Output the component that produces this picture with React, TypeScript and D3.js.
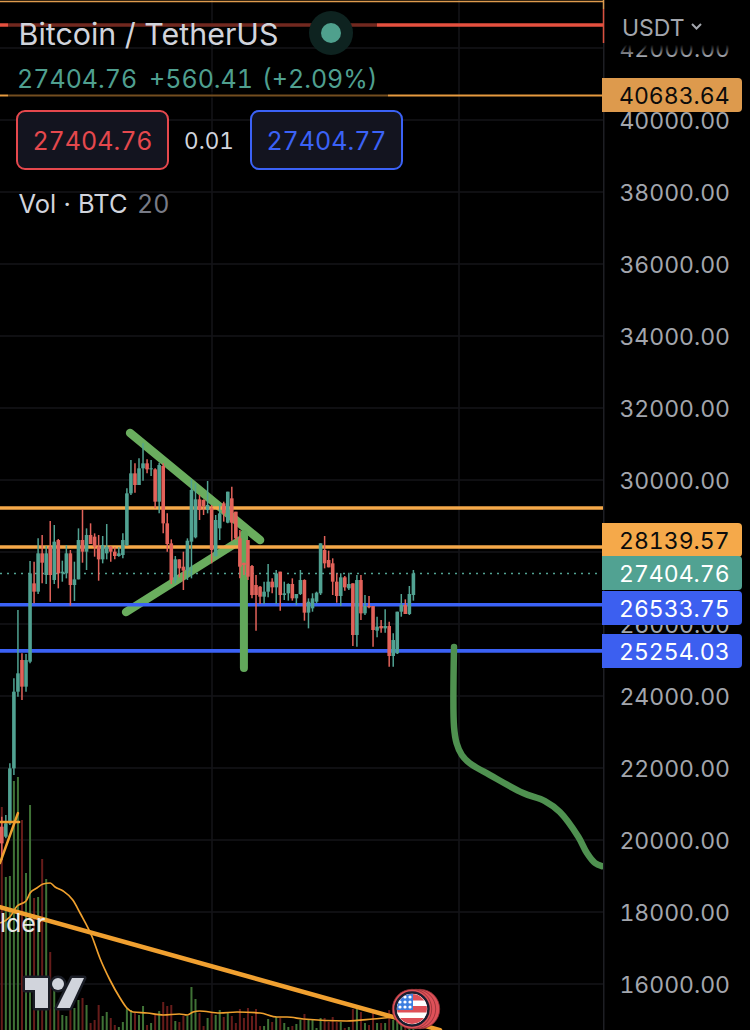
import React from "react";
import * as d3 from "d3";

const opens = [20370,20092,20463,21990,24120,25000,24259,24953,27129,26898,27963,27361,28148,27222,28333,27407,27407,27963,27083,27240,28333,28009,28472,28426,28148,27796,27963,28148,28009,27889,27916,28194,29629,30185,29861,30324,30463,30296,30296,29398,30389,28796,28240,27222,27796,27592,27481,28287,28407,29463,29444,29166,29213,27889,28657,29352,28815,29491,29120,28380,27700,28333,27611,27083,27037,26759,26898,27176,27018,27454,26805,26852,27111,26713,26833,27222,26315,26435,26620,26852,28055,27778,27685,27176,26778,27296,26990,27129,25694,27222,26296,26500,26500,25815,25944,25879,25944,25111,25185,26342,26528,26278,26805];
const highs = [20648,20694,22129,24491,26388,25185,25166,27750,27731,28379,28472,28166,28861,28750,28361,27759,28194,28055,27731,28657,29185,28657,28796,28518,28472,28444,28777,28166,28129,28129,28518,29768,30555,30463,30602,31018,30574,30555,30324,30481,30463,29074,28351,27888,27796,28009,28379,30018,29907,29583,29463,29972,29306,29028,29333,29398,29676,29815,29120,28611,27700,28333,27639,27361,27055,27176,27666,27268,27500,27454,27176,27129,27268,26833,27500,27241,26713,26852,26898,28241,28444,28037,27824,27407,27407,27333,27426,27129,27361,27361,26805,26778,26500,26203,26111,26407,26065,25740,26342,26833,26685,27055,27500];
const lows = [19444,20046,20416,21805,23981,23889,24120,24907,26574,26833,27129,27111,26620,27111,26990,27175,27268,26509,26638,27240,27703,27500,28222,27870,27203,27685,27796,27731,27796,27870,27824,28166,29583,29648,29861,29981,30185,30111,29213,29074,28518,28009,27111,27129,27296,26944,27222,27268,28379,28889,29027,29074,27685,27870,28333,28843,28796,28315,28333,27268,27361,27222,26713,25814,26555,26555,26740,26852,26555,26370,26666,26648,26648,26527,26805,26092,25879,26342,26574,26805,27546,27574,26805,26592,26500,26926,26944,25388,25370,26111,26250,26435,25370,25629,25759,25759,24814,24814,25166,26203,26278,26250,26648];
const closes = [19907,20463,21990,24120,24630,24259,24999,27407,26898,27963,27703,27963,27361,28287,27407,27453,27963,27083,27240,28333,28009,28472,28222,28148,27796,28194,28148,28009,27889,27963,28333,29629,30185,29861,30324,30463,30296,30324,29398,30416,28796,28222,27222,27796,27546,27481,28314,29722,29463,29166,29278,29305,28055,28889,29074,29074,29676,28815,28380,27592,27639,27315,26805,26805,26759,26898,27176,27018,27407,26805,26852,27111,26713,26833,27222,26315,26620,26713,26870,28241,27685,27574,27176,26778,27296,27018,27111,25694,27222,26296,26500,26463,25833,25926,25879,25944,25111,25555,26342,26528,26278,26833,27407];
const volumes = [233,163,164,259,263,220,167,235,142,143,181,161,88,50,30,25,24,30,32,40,42,35,17,20,35,24,28,22,15,13,18,32,30,27,25,34,15,17,25,29,38,34,35,19,18,24,24,53,41,27,14,22,27,25,30,23,27,24,17,31,22,32,24,31,14,14,21,18,23,22,17,13,14,16,20,26,21,20,12,22,22,18,23,18,18,12,13,31,31,28,17,15,30,17,17,17,30,20,20,25,18,22,16];
const volumeMaIndex = [-0.4,2,3.8,6,7,8.7,10.2,12,13.2,15.2,17.6,19.4,22.4,24.3,26.8,29.3,31,32.5,36,40,44,46,47.4,49,54,58.3,64,68.2,70.7,74.7,85.5,92,97];
const volumeMa = [117,123,134,139,147,152,156,157,153,149,140,127,103,82,60,42,32,28,27,25,26,25,28,29,27,28,27,23,23,21,19,21,23];
const forecastIndex = [112.07,112.07,112.7,114,115.9,121,129.2,134.6,138.3,142.9,145,147,148.7];
const forecastPrice = [25360,23138,22693,22360,22137,21804,21304,21082,20776,20082,19637,19360,19276];
const priceTicks = [42000,40000,38000,36000,34000,32000,30000,28000,26000,24000,22000,20000,18000,16000];
const levelLines = [{ price: 29222, color: "#f5a94a" },{ price: 28139.57, color: "#f5a94a" },{ price: 26533.75, color: "#3b62f6" },{ price: 25254.03, color: "#3b62f6" }];
const tagPrices = [40683.64, 28139.57, 27404.76, 26533.75, 25254.03];
const tagLabels = ["40683.64", "28139.57", "27404.76", "26533.75", "25254.03"];
const tagFills = ["#dd9a4d", "#f5a94a", "#51a292", "#3c5ff0", "#3c5ff0"];
const tagTexts = ["#0b0b0b", "#0b0b0b", "#ffffff", "#ffffff", "#ffffff"];
const tagShift = [0, -7, 0, 3, 0]; // stacked so that they do not collide

const W = 750, H = 1030, AXIS = 603;
const y = d3.scaleLinear().domain([40000, 16000]).range([120, 984]);
const x = d3.scaleLinear().domain([0, 102]).range([1.8, 413.4]);
const vy = d3.scaleLinear().domain([0, 300]).range([1040, 740]);
const FONT = "Inter, 'Noto Sans', sans-serif";
const TEAL = "#51a292", RED = "#e2625a", GREEN = "#6aad5e";
const NUM: React.CSSProperties = { fontVariantNumeric: "tabular-nums" };

const seg = (i0: number, p0: number, i1: number, p1: number, c: string, w: number) => (
  <line x1={x(i0)} y1={y(p0)} x2={x(i1)} y2={y(p1)} stroke={c} strokeWidth={w} strokeLinecap="round" />
);

export default function App() {
  const maPath = d3.line<number>().x((_, i) => x(volumeMaIndex[i])).y((d) => vy(d)).curve(d3.curveMonotoneX)(volumeMa) || "";
  const fcPath = d3.line<number>().x((_, i) => x(forecastIndex[i])).y((d) => y(d)).curve(d3.curveCatmullRom.alpha(0.5))(forecastPrice) || "";
  const tagPath = (top: number, h: number) => `M${AXIS - 1},${top}H738a4,4 0 0 1 4,4V${top + h - 4}a4,4 0 0 1 -4,4H${AXIS - 1}Z`;
  return (
    <svg width={W} height={H} viewBox={`0 0 ${W} ${H}`} style={{ position: "absolute", left: 0, top: 0, display: "block", background: "#000" }} fontFamily={FONT}>
      <rect width={W} height={H} fill="#000" />
      <defs>
        <clipPath id="plot"><rect x={0} y={0} width={AXIS} height={H} /></clipPath>
        <clipPath id="flag"><circle cx={412} cy={1009} r={15} /></clipPath>
        <linearGradient id="fade" x1="0" y1="0" x2="0" y2="1">
          <stop offset="0.8" stopColor="#000" stopOpacity={1} />
          <stop offset="1" stopColor="#000" stopOpacity={0} />
        </linearGradient>
      </defs>
      <g clipPath="url(#plot)">
        {priceTicks.map((t) => <line key={t} x1={0} x2={AXIS} y1={y(t)} y2={y(t)} stroke="#151518" strokeWidth={1.5} />)}
        {[212, 459].map((v) => <line key={v} x1={v} x2={v} y1={0} y2={H} stroke="#151518" strokeWidth={1.5} />)}
        {volumes.map((v, i) => (
          <rect key={i} x={x(i) - 1} width={2} y={vy(v)} height={H - vy(v)} fill={closes[i] >= opens[i] ? "#3f7236" : "#661c1a"} />
        ))}
        <line x1={0} x2={AXIS} y1={1.5} y2={1.5} stroke="#dd9a4d" strokeWidth={1.5} />
        <line x1={0} x2={AXIS} y1={y(42639)} y2={y(42639)} stroke="#e5503f" strokeWidth={3.5} />
        <line x1={0} x2={AXIS} y1={y(40683.64)} y2={y(40683.64)} stroke="#e69a3f" strokeWidth={2} />
        <rect x={8} y={20} width={369} height={10} fill="#000" opacity={0.5} />
        <rect x={8} y={92} width={380} height={6} fill="#000" opacity={0.5} />
        {seg(31.8, 31305, 64, 28333, GREEN, 8.5)}
        {seg(30.8, 26333, 60, 28389, GREEN, 8.5)}
        {levelLines.map((l) => <line key={l.price} x1={0} x2={AXIS} y1={y(l.price)} y2={y(l.price)} stroke={l.color} strokeWidth={3.6} />)}
        {seg(60, 28500, 60, 24778, "#62a85b", 8)}
        <line x1={0} x2={AXIS} y1={y(27404.76)} y2={y(27404.76)} stroke={TEAL} strokeWidth={1.5} strokeDasharray="2 5" />
        {opens.map((o, i) => {
          const c = closes[i], col = c >= o ? TEAL : RED;
          return (
            <g key={i}>
              <line x1={x(i)} x2={x(i)} y1={y(highs[i])} y2={y(lows[i])} stroke={col} strokeWidth={1.5} />
              <rect x={x(i) - 1.8} width={3.6} y={y(Math.max(o, c))} height={Math.max(1, y(Math.min(o, c)) - y(Math.max(o, c)))} fill={col} />
            </g>
          );
        })}
        <path d={fcPath} fill="none" stroke="#4f9150" strokeWidth={6.5} strokeLinecap="round" strokeLinejoin="round" />
        {seg(-0.45, 18137, 108.6, 14720, "#f0a030", 4.5)}
        {seg(-0.45, 19359, 4, 20748, "#f0a030", 2.5)}
        {seg(-0.45, 20500, 4.3, 20500, "#f0a030", 2.5)}
        <path d={maPath} fill="none" stroke="#efa02e" strokeWidth={1.7} />
      </g>

      <rect x={AXIS} y={0} width={1.5} height={H} fill="#1e1f24" />
      <line x1={AXIS + 0.5} x2={AXIS + 0.5} y1={0} y2={9} stroke="#dd9a4d" strokeWidth={1.5} />
      <line x1={AXIS + 0.5} x2={AXIS + 0.5} y1={9} y2={43} stroke="#d9503f" strokeWidth={1.5} />
      <line x1={605} x2={W} y1={0.5} y2={0.5} stroke="#2a2e39" />

      {priceTicks.map((t) => (
        <text key={t} x={730} y={y(t) + 1} dy="0.36em" textAnchor="end" fontSize={23} fill="#a3a6ad" style={NUM}>{d3.format(".2f")(t)}</text>
      ))}
      <rect x={605} y={0} width={145} height={56} fill="url(#fade)" />
      <text x={622} y={36} fontSize={23} fill="#a3a6ad">USDT</text>
      <path d="M692,24l4.5,4.5l4.5,-4.5" fill="none" stroke="#a3a6ad" strokeWidth={2} />

      {tagPrices.map((p, i) => {
        const cy = Math.round(y(p)) + tagShift[i];
        return (
          <g key={p}>
            <path d={tagPath(cy - 17, 34)} fill={tagFills[i]} />
            <text x={619} y={cy + 0.5} dy="0.36em" fontSize={23} fill={tagTexts[i]} style={NUM}>{tagLabels[i]}</text>
          </g>
        );
      })}

      {/* header */}
      <circle cx={331} cy={33} r={22} fill="#0e2320" />
      <circle cx={331} cy={33} r={10} fill="#4fa08d" />
      <text x={18.5} y={44.5} fontSize={30.4} fill="#d1d4dc">Bitcoin / TetherUS</text>
      <text x={17} y={88} fontSize={25} fill="#4f9f8f" style={NUM}>27404.76</text>
      <text x={149} y={88} fontSize={25} fill="#4f9f8f" style={NUM}>+560.41</text>
      <text x={262} y={88} fontSize={25} fill="#4f9f8f" style={NUM}>(+2.09%)</text>
      <rect x={17} y={111} width={151} height={58} rx={8} fill="#13141f" stroke="#e5484d" strokeWidth={2} />
      <text x={92.5} y={140.5} dy="0.36em" textAnchor="middle" fontSize={25} fill="#e5484d" style={NUM}>27404.76</text>
      <text x={209} y={140.5} dy="0.36em" textAnchor="middle" fontSize={22.5} fill="#d1d4dc" style={NUM}>0.01</text>
      <rect x={251} y={111} width={151} height={58} rx={8} fill="#13141f" stroke="#3b62f6" strokeWidth={2} />
      <text x={326.5} y={140.5} dy="0.36em" textAnchor="middle" fontSize={25} fill="#3b62f6" style={NUM}>27404.77</text>
      <text x={18.5} y={213} fontSize={25.5} fill="#d1d4dc">Vol · BTC</text>
      <text x={137} y={213} fontSize={25} fill="#787b86" style={NUM}>20</text>
      <text x={0} y={932} fontSize={25} fill="#e8e8e8">lder</text>

      {/* logo */}
      <g stroke="#1a1d26" strokeWidth={5} paintOrder="stroke" fill="#d1d4dc" strokeLinejoin="round">
        <path d="M25,978H48V1008H35V990H25Z" />
        <circle cx={58} cy={984} r={6} />
        <path d="M72,978H84L70,1008H57Z" />
      </g>

      {/* flag */}
      <circle cx={420} cy={1009} r={19.7} fill="#de5058" stroke="#8f3236" strokeWidth={0.8} />
      <circle cx={416} cy={1009} r={19.7} fill="#de5058" stroke="#8f3236" strokeWidth={0.8} />
      <circle cx={412} cy={1009} r={19.7} fill="#de5058" stroke="#8f3236" strokeWidth={0.8} />
      <circle cx={412} cy={1009} r={16.5} fill="#fff" stroke="#1a1d2e" strokeWidth={2.5} />
      <g clipPath="url(#flag)">
        <rect x={396} y={993} width={32} height={32} fill="#fff" />
        {[994, 1006, 1018].map((s) => <rect key={s} x={396} y={s} width={32} height={6.5} fill="#de5058" />)}
        <rect x={396} y={993} width={17} height={17} fill="#3d7fe0" />
        {[[400,997],[405,997],[410,997],[400,1002],[405,1002],[410,1002],[400,1007],[405,1007],[410,1007]].map(([a, b]) => (
          <circle key={`${a}-${b}`} cx={a} cy={b} r={1.6} fill="#fff" />
        ))}
      </g>
    </svg>
  );
}
